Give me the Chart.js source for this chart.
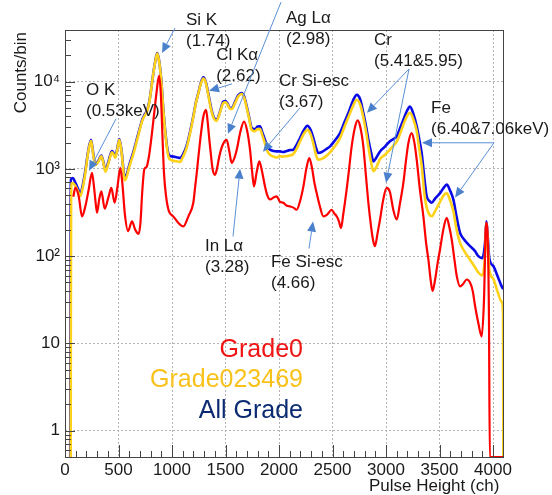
<!DOCTYPE html>
<html>
<head>
<meta charset="utf-8">
<script src="https://cdn.jsdelivr.net/npm/chart.js@4.4.1/dist/chart.umd.min.js"></script>
<style>
html,body{margin:0;padding:0;background:#fff;}
#wrap{width:552px;height:495px;position:relative;}
</style>
</head>
<body>
<div id="wrap"><canvas id="c" width="552" height="495"></canvas></div>
<script>
// ---- data: [channel, counts/bin] ----
const grade0 = [[78,480],[97,610],[128,485],[159,286],[190,372],[221,577],[252,900],[270,640],[283,447],[299,315],[320,450],[340,553],[371,350],[408,485],[433,605],[464,409],[490,620],[517,1030],[538,640],[558,316],[589,194],[626,250],[657,200],[688,180],[705,240],[722,550],[742,1000],[762,1050],[785,1400],[810,2400],[835,4500],[857,7800],[878,11600],[895,7500],[910,2500],[925,900],[945,480],[970,330],[1012,286],[1060,240],[1106,219],[1153,286],[1199,409],[1215,600],[1231,896],[1250,1500],[1270,2500],[1293,3980],[1318,4750],[1335,3300],[1349,2150],[1365,1400],[1380,980],[1402,855],[1420,1000],[1442,1390],[1475,1900],[1511,2150],[1535,1600],[1558,1170],[1580,1300],[1605,1660],[1640,2700],[1673,3490],[1700,2800],[1729,1660],[1750,900],[1766,630],[1790,900],[1816,1220],[1840,950],[1869,630],[1890,500],[1916,447],[1950,470],[1978,485],[2009,420],[2040,409],[2070,380],[2103,372],[2135,360],[2165,340],[2195,420],[2228,630],[2255,1000],[2283,1330],[2310,1000],[2330,700],[2352,528],[2380,380],[2414,286],[2450,300],[2492,340],[2515,310],[2539,286],[2560,250],[2579,210],[2600,300],[2632,577],[2655,1000],[2679,1810],[2710,3000],[2735,3600],[2760,3000],[2788,1810],[2810,900],[2835,409],[2860,220],[2880,150],[2897,130],[2920,180],[2944,263],[2975,450],[3006,605],[3037,540],[3068,340],[3100,263],[3130,400],[3162,690],[3185,1200],[3209,1980],[3240,2570],[3265,2000],[3287,1270],[3315,600],[3349,286],[3375,140],[3396,91],[3420,50],[3435,40],[3460,55],[3480,80],[3505,120],[3535,200],[3567,275],[3590,220],[3614,155],[3640,90],[3661,59],[3692,45],[3720,48],[3754,54],[3785,50],[3810,40],[3832,27],[3863,17],[3894,12],[3915,30],[3935,240],[3950,160],[3962,20],[3970,0.5],[4096,0.5]];

const grade023469 = [[53,0.5],[57,500],[62,680],[75,690],[95,640],[120,560],[143,485],[165,600],[190,900],[215,1500],[243,2100],[262,1500],[283,1100],[310,1200],[340,1390],[360,1150],[377,930],[405,1150],[439,1550],[455,1450],[470,1340],[490,1700],[508,2150],[530,1500],[558,740],[575,800],[600,1050],[640,1500],[680,2300],[720,3500],[740,3980],[766,4540],[790,6000],[813,9600],[840,16000],[862,21000],[880,17000],[900,10000],[920,4500],[944,2150],[960,1500],[975,1300],[1000,1250],[1040,1220],[1075,1200],[1100,1350],[1137,1750],[1170,2600],[1199,3900],[1225,5800],[1246,7300],[1270,9500],[1293,10800],[1315,9800],[1339,7000],[1365,4800],[1390,3800],[1417,3550],[1445,4300],[1480,5700],[1500,5800],[1517,5500],[1540,4900],[1558,4850],[1590,5700],[1620,6800],[1651,7200],[1675,6500],[1698,5000],[1720,3800],[1745,2800],[1776,2700],[1800,2850],[1822,2850],[1845,2400],[1869,1950],[1890,1600],[1916,1450],[1950,1380],[1978,1350],[2009,1400],[2040,1380],[2070,1400],[2100,1420],[2134,1480],[2165,1700],[2196,2050],[2230,2500],[2265,2800],[2295,2500],[2321,1950],[2345,1450],[2368,1270],[2400,1300],[2440,1400],[2477,1550],[2520,1800],[2570,2250],[2610,3000],[2648,3900],[2690,5200],[2726,6200],[2760,5400],[2788,3900],[2815,2600],[2835,1800],[2860,1200],[2882,940],[2910,1050],[2944,1300],[2990,1450],[3037,1660],[3070,1850],[3100,2050],[3130,2500],[3162,3200],[3195,4000],[3224,4400],[3255,3700],[3287,2700],[3310,1700],[3333,1100],[3360,500],[3380,360],[3405,300],[3427,286],[3460,330],[3505,420],[3540,500],[3567,528],[3600,430],[3629,330],[3660,200],[3692,142],[3730,115],[3785,91],[3830,75],[3863,65],[3900,60],[3925,100],[3938,240],[3950,150],[3965,70],[4003,55],[4040,40],[4081,30],[4094,22],[4096,0.5]];

const allGrade = [[49,0.5],[52,400],[56,760],[75,787],[95,700],[120,600],[143,520],[165,640],[190,950],[215,1550],[243,2150],[262,1550],[283,1130],[310,1230],[340,1420],[360,1180],[377,960],[405,1200],[439,1600],[455,1500],[470,1380],[490,1750],[508,2200],[530,1550],[558,790],[575,850],[600,1100],[640,1580],[680,2400],[720,3600],[740,4100],[766,4650],[790,6100],[813,9700],[840,16200],[862,21200],[880,17200],[900,10200],[920,4600],[944,2250],[960,1600],[975,1420],[1000,1390],[1040,1360],[1075,1330],[1100,1450],[1137,1850],[1170,2700],[1199,4000],[1225,5900],[1246,7400],[1270,9700],[1293,11200],[1315,10000],[1339,7300],[1365,5000],[1390,3900],[1417,3650],[1445,4400],[1480,5900],[1500,6000],[1517,5650],[1540,5000],[1558,4970],[1590,5900],[1620,7000],[1651,7400],[1675,6700],[1698,5200],[1720,3950],[1745,2950],[1776,2850],[1800,3050],[1822,3070],[1845,2600],[1869,2150],[1890,1800],[1916,1660],[1950,1600],[1978,1585],[2009,1585],[2040,1560],[2070,1600],[2100,1640],[2134,1660],[2165,1900],[2196,2250],[2230,2750],[2265,3120],[2295,2800],[2321,2250],[2345,1750],[2368,1520],[2400,1560],[2440,1680],[2477,1810],[2520,2100],[2570,2570],[2610,3400],[2648,4360],[2690,6000],[2726,7050],[2760,6200],[2788,4360],[2815,3000],[2835,2150],[2860,1550],[2882,1220],[2910,1350],[2944,1585],[2990,1800],[3037,2070],[3070,2200],[3100,2350],[3130,2900],[3162,3650],[3195,4600],[3224,5170],[3255,4300],[3287,3070],[3310,2200],[3333,1520],[3360,750],[3380,485],[3405,430],[3427,409],[3460,460],[3505,528],[3540,610],[3567,660],[3600,560],[3629,447],[3660,280],[3692,185],[3730,155],[3785,130],[3830,115],[3863,100],[3900,95],[3925,140],[3938,250],[3950,170],[3965,95],[4003,77],[4040,60],[4081,45],[4096,42]];

const xTicks = [0,500,1000,1500,2000,2500,3000,3500,4000];
const yTicks = [1,10,100,1000,10000];
const yTickLabels = ['1','10','10\u00B2','10\u00B3','10\u2074'];
const seriesNames = ['Grade0','Grade023469','All Grade'];

// annotation labels: [text lines, channel (left), counts (first line centre)]
const labels = [
  [['O K','(0.53keV)'], 196, 8040],
  [['Si K','(1.74)'], 1131, 50700],
  [['Cl K\u03B1','(2.62)'], 1413, 20200],
  [['Ag L\u03B1','(2.98)'], 2065, 52700],
  [['Cr','(5.41&5.95)'], 2888, 30000],
  [['Cr Si-esc','(3.67)'], 2000, 10050],
  [['Fe','(6.40&7.06keV)'], 3421, 4940],
  [['In L\u03B1','(3.28)'], 1308, 129],
  [['Fe Si-esc','(4.66)'], 1925, 86]
];
// arrows: [from ch, from counts, to ch, to counts]
const arrows = [
  [477,3750,224,953],
  [1028,41100,907,21300],
  [1561,9420,1346,7830],
  [2019,81500,1523,2520],
  [2196,5000,1850,1574],
  [3215,13970,2822,4390],
  [3215,13970,3000,695],
  [4009,1990,3336,1990],
  [4009,1990,3645,469],
  [1570,168,1636,1005],
  [2280,122,2318,249]
];
// legend text anchors: right channel, counts centre
const legendPos = [[2224,8.36],[2224,3.79],[2224,1.68]];
const legendColors = ['#f01414','#f9c21b','#0b2a72'];
const lineColors = ['#ff0000','#ffd21a','#0a0ae6'];

const FONT = '"Liberation Sans", Arial, Helvetica, sans-serif';

const pts = a => a.map(p => ({x:p[0], y:p[1]}));

const framePlugin = {
  id:'frame',
  afterDatasetsDraw(chart){
    const {ctx, chartArea:ca, scales:{x,y}} = chart;
    ctx.save();
    ctx.strokeStyle = '#444';
    ctx.lineWidth = 1;
    ctx.beginPath();
    for(let ch=0; ch<=4096; ch+=100){
      const px = Math.round(x.getPixelForValue(ch))+0.5;
      const len = (ch%500===0)?12:6;
      ctx.moveTo(px, ca.bottom); ctx.lineTo(px, ca.bottom-len);
    }
    const ymin = y.min, ymax = y.max;
    for(let e=-1; e<=5; e++){
      for(let k=1;k<=9;k++){
        const v = k*Math.pow(10,e);
        if(v<ymin || v>ymax) continue;
        const py = Math.round(y.getPixelForValue(v))+0.5;
        const len = (k===1)?10:6;
        ctx.moveTo(ca.left, py); ctx.lineTo(ca.left+len, py);
      }
    }
    ctx.stroke();
    ctx.strokeRect(Math.round(ca.left)+0.5, Math.round(ca.top)+0.5, Math.round(ca.right-ca.left), Math.round(ca.bottom-ca.top));
    ctx.restore();
  },
  afterDraw(chart){
    const {ctx, chartArea:ca, scales:{x,y}} = chart;
    ctx.save();
    ctx.fillStyle = '#1a1a1a';
    ctx.font = '17px '+FONT;
    ctx.textBaseline = 'middle';
    ctx.textAlign = 'right';
    ctx.fillText('Pulse Height (ch)', ca.right-4, 486);
    ctx.save();
    ctx.translate(21.5, ca.top+2);
    ctx.rotate(-Math.PI/2);
    ctx.textAlign='right';
    ctx.fillText('Counts/bin', 0, 0);
    ctx.restore();
    ctx.textAlign='left';
    labels.forEach(l=>{
      const px = x.getPixelForValue(l[1]);
      const py = y.getPixelForValue(l[2]);
      l[0].forEach((t,i)=>ctx.fillText(t, px, py+i*21));
    });
    ctx.strokeStyle = '#5a8fd6';
    ctx.fillStyle = '#4a80cc';
    ctx.lineWidth = 1;
    arrows.forEach(a=>{
      const x1=x.getPixelForValue(a[0]), y1=y.getPixelForValue(a[1]);
      const x2=x.getPixelForValue(a[2]), y2=y.getPixelForValue(a[3]);
      const ang=Math.atan2(y2-y1,x2-x1);
      const L=10, W=4.5;
      const bx=x2-L*Math.cos(ang), by=y2-L*Math.sin(ang);
      ctx.beginPath(); ctx.moveTo(x1,y1); ctx.lineTo(bx,by); ctx.stroke();
      ctx.beginPath();
      ctx.moveTo(x2,y2);
      ctx.lineTo(bx+W*Math.sin(ang), by-W*Math.cos(ang));
      ctx.lineTo(bx-W*Math.sin(ang), by+W*Math.cos(ang));
      ctx.closePath(); ctx.fill();
    });
    ctx.font = '25px '+FONT;
    ctx.textAlign='right';
    seriesNames.forEach((n,i)=>{
      ctx.fillStyle = legendColors[i];
      ctx.fillText(n, x.getPixelForValue(legendPos[i][0]), y.getPixelForValue(legendPos[i][1]));
    });
    ctx.restore();
  }
};

new Chart(document.getElementById('c'), {
  type:'line',
  data:{
    datasets:[
      {label:seriesNames[0], data:pts(grade0), borderColor:lineColors[0], borderWidth:2.2},
      {label:seriesNames[1], data:pts(grade023469), borderColor:lineColors[1], borderWidth:2.6},
      {label:seriesNames[2], data:pts(allGrade), borderColor:lineColors[2], borderWidth:2.6}
    ]
  },
  options:{
    responsive:false,
    animation:false,
    parsing:true,
    layout:{padding:{top:30, right:48.7, left:0, bottom:0}},
    elements:{point:{radius:0}, line:{cubicInterpolationMode:'monotone', fill:false}},
    plugins:{legend:{display:false}, tooltip:{enabled:false}},
    scales:{
      x:{
        type:'linear', min:0, max:4096,
        afterFit(s){ s.height = 38; },
        afterBuildTicks(s){ s.ticks = xTicks.map(v=>({value:v})); },
        ticks:{color:'#1a1a1a', font:{family:FONT, size:17}, padding:3, maxRotation:0, autoSkip:false, callback:v=>String(v)},
        grid:{color:'#b4b4b4', lineWidth:1, drawTicks:false},
        border:{display:false, dash:[2,2]}
      },
      y:{
        type:'logarithmic', min:0.5, max:39000,
        afterFit(s){ s.width = 65; },
        afterBuildTicks(s){ s.ticks = yTicks.map(v=>({value:v})); },
        ticks:{color:'#1a1a1a', font:{family:FONT, size:17}, padding:5, autoSkip:false,
          callback:(v)=>{ const i=yTicks.indexOf(v); return i>=0?yTickLabels[i]:''; }},
        grid:{color:'#b4b4b4', lineWidth:1, drawTicks:false},
        border:{display:false, dash:[2,2]}
      }
    }
  },
  plugins:[framePlugin]
});
</script>
</body>
</html>
